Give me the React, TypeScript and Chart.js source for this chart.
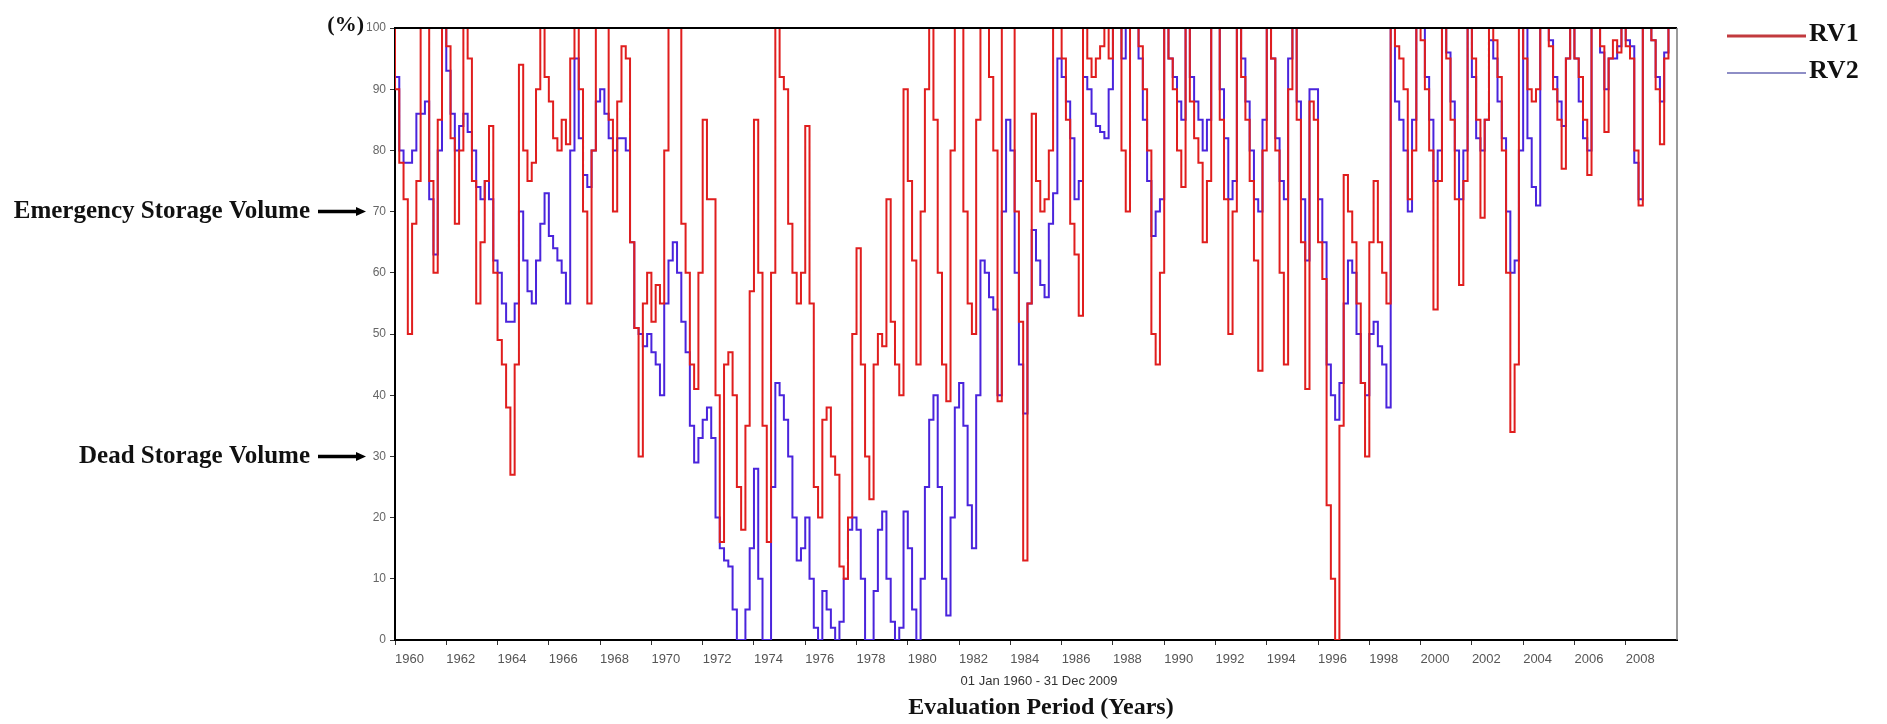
import React, { useEffect, useRef } from "react";
import { Chart, registerables } from "chart.js";

Chart.register(...registerables);

// ---------- DATA ----------
const START_YEAR = 1960;
const END_YEAR = 2010;
const STEPS_PER_YEAR = 6; // one value every two months

const seriesNames = ["RV1", "RV2"];

// RV1 storage (%), 6 values per year, 1960..2009
const rv1 = [
  100, 90, 78, 72, 50, 68, // 1960
  75, 100, 100, 75, 60, 85, // 1961
  100, 97, 82, 68, 80, 100, // 1962
  95, 75, 55, 65, 75, 84, // 1963
  60, 49, 45, 38, 27, 45, // 1964
  94, 80, 75, 78, 90, 100, // 1965
  92, 88, 82, 80, 85, 81, // 1966
  95, 100, 90, 70, 55, 80, // 1967
  100, 100, 100, 85, 70, 88, // 1968
  97, 95, 65, 51, 30, 55, // 1969
  60, 52, 58, 55, 80, 100, // 1970
  100, 100, 68, 60, 45, 41, // 1971
  60, 85, 72, 72, 40, 16, // 1972
  45, 47, 40, 25, 18, 35, // 1973
  57, 85, 60, 35, 16, 60, // 1974
  100, 92, 90, 68, 60, 55, // 1975
  60, 84, 55, 25, 20, 36, // 1976
  38, 30, 27, 12, 10, 20, // 1977
  50, 64, 45, 30, 23, 45, // 1978
  50, 48, 72, 52, 45, 40, // 1979
  90, 75, 62, 45, 70, 90, // 1980
  100, 85, 60, 45, 39, 80, // 1981
  100, 100, 70, 55, 50, 85, // 1982
  100, 100, 92, 80, 39, 100, // 1983
  100, 100, 70, 52, 13, 55, // 1984
  86, 75, 70, 72, 80, 100, // 1985
  100, 95, 85, 68, 63, 53, // 1986
  100, 95, 92, 95, 97, 100, // 1987
  95, 100, 100, 80, 70, 100, // 1988
  100, 97, 90, 80, 50, 45, // 1989
  60, 100, 95, 90, 80, 74, // 1990
  100, 88, 82, 78, 65, 75, // 1991
  100, 100, 85, 72, 50, 70, // 1992
  100, 92, 85, 75, 62, 44, // 1993
  80, 100, 95, 80, 60, 45, // 1994
  90, 100, 85, 65, 41, 88, // 1995
  85, 65, 59, 22, 10, 0, // 1996
  35, 76, 70, 65, 55, 42, // 1997
  30, 65, 75, 65, 60, 55, // 1998
  100, 97, 95, 90, 72, 80, // 1999
  100, 98, 90, 80, 54, 75, // 2000
  100, 95, 85, 72, 58, 75, // 2001
  100, 95, 85, 69, 85, 100, // 2002
  98, 92, 80, 60, 34, 45, // 2003
  100, 95, 90, 88, 90, 100, // 2004
  100, 97, 90, 85, 77, 95, // 2005
  100, 95, 92, 85, 76, 100, // 2006
  100, 97, 83, 95, 98, 96, // 2007
  100, 97, 95, 80, 71, 100, // 2008
  100, 98, 90, 81, 95, 100, // 2009
];

// RV2 storage (%), 6 values per year, 1960..2009
const rv2 = [
  100, 92, 80, 78, 78, 80, // 1960
  86, 86, 88, 72, 63, 80, // 1961
  100, 93, 86, 80, 84, 86, // 1962
  83, 80, 74, 72, 75, 72, // 1963
  62, 60, 55, 52, 52, 55, // 1964
  70, 62, 57, 55, 62, 68, // 1965
  73, 66, 64, 62, 60, 55, // 1966
  80, 95, 82, 76, 74, 80, // 1967
  88, 90, 86, 82, 80, 82, // 1968
  82, 80, 65, 51, 50, 48, // 1969
  50, 47, 45, 40, 55, 62, // 1970
  65, 60, 52, 47, 35, 29, // 1971
  33, 36, 38, 33, 20, 15, // 1972
  13, 12, 5, 0, 0, 5, // 1973
  15, 28, 10, 0, 0, 25, // 1974
  42, 40, 36, 30, 20, 13, // 1975
  15, 20, 10, 2, 0, 8, // 1976
  5, 2, 0, 3, 10, 18, // 1977
  20, 18, 10, 0, 0, 8, // 1978
  18, 21, 10, 3, 0, 2, // 1979
  21, 15, 5, 0, 10, 25, // 1980
  36, 40, 25, 10, 4, 20, // 1981
  38, 42, 35, 22, 15, 40, // 1982
  62, 60, 56, 54, 40, 70, // 1983
  85, 80, 60, 45, 37, 55, // 1984
  67, 62, 58, 56, 68, 73, // 1985
  95, 92, 88, 82, 72, 75, // 1986
  92, 90, 86, 84, 83, 82, // 1987
  90, 100, 100, 95, 100, 100, // 1988
  100, 95, 85, 75, 66, 70, // 1989
  72, 100, 95, 92, 88, 85, // 1990
  100, 92, 88, 85, 80, 85, // 1991
  100, 100, 90, 82, 72, 75, // 1992
  100, 95, 88, 80, 72, 70, // 1993
  85, 100, 95, 82, 75, 72, // 1994
  95, 100, 88, 72, 62, 90, // 1995
  90, 72, 65, 45, 40, 36, // 1996
  42, 55, 62, 60, 50, 42, // 1997
  40, 50, 52, 48, 45, 38, // 1998
  100, 88, 85, 80, 70, 85, // 1999
  100, 100, 92, 85, 75, 80, // 2000
  100, 96, 88, 80, 72, 80, // 2001
  100, 92, 82, 80, 85, 98, // 2002
  95, 88, 82, 70, 60, 62, // 2003
  80, 100, 82, 74, 71, 100, // 2004
  100, 98, 92, 88, 84, 95, // 2005
  100, 95, 88, 82, 80, 100, // 2006
  100, 96, 90, 95, 95, 97, // 2007
  100, 98, 97, 78, 72, 100, // 2008
  100, 98, 92, 88, 96, 100, // 2009
];

const xTickYears = [
  1960, 1962, 1964, 1966, 1968, 1970, 1972, 1974, 1976, 1978, 1980, 1982, 1984,
  1986, 1988, 1990, 1992, 1994, 1996, 1998, 2000, 2002, 2004, 2006, 2008,
];
const yMin = 0;
const yMax = 100;
const yStep = 10;

const yUnitLabel = "(%)";
const xTitle = "Evaluation Period (Years)";
const xSubtitle = "01 Jan 1960 - 31 Dec 2009";
const markerLabels = ["Emergency Storage Volume", "Dead Storage Volume"];
const markerValues = [70, 30];

// ---------- STYLE ----------
const W = 1887;
const H = 724;
const PLOT = { left: 395, top: 28, right: 1677, bottom: 640 };
const Y_AXIS_W = 40;
const X_AXIS_H = 30;
const LINE_COLORS = ["#e01e1e", "#4a24dc"];
const LEGEND_COLORS = ["#c23a3e", "#8e8ec6"];
const SERIF = '"Liberation Serif", "Times New Roman", serif';
const SANS = '"Liberation Sans", Arial, sans-serif';

const toPoints = (vals: number[]) =>
  vals.map((v, i) => ({ x: START_YEAR + i / STEPS_PER_YEAR, y: v }));

const decorPlugin = {
  id: "decor",
  afterDraw(chart: any) {
    const { ctx, chartArea, scales } = chart;
    const ys = scales.y;
    ctx.save();

    // top frame line and right frame line
    ctx.strokeStyle = "#000";
    ctx.lineWidth = 2;
    ctx.beginPath();
    ctx.moveTo(chartArea.left - 1, chartArea.top);
    ctx.lineTo(chartArea.right, chartArea.top);
    ctx.stroke();
    ctx.strokeStyle = "#7a7a7a";
    ctx.lineWidth = 1.5;
    ctx.beginPath();
    ctx.moveTo(chartArea.right, chartArea.top);
    ctx.lineTo(chartArea.right, chartArea.bottom);
    ctx.stroke();

    ctx.fillStyle = "#111";
    // (%) unit label
    ctx.font = `bold 22px ${SERIF}`;
    ctx.textAlign = "right";
    ctx.textBaseline = "middle";
    ctx.fillText(yUnitLabel, chartArea.left - 31, ys.getPixelForValue(yMax) - 3);

    // storage markers with arrows
    markerLabels.forEach((label, i) => {
      const y = ys.getPixelForValue(markerValues[i]);
      ctx.font = `bold 25px ${SERIF}`;
      ctx.textAlign = "right";
      ctx.textBaseline = "middle";
      ctx.fillStyle = "#111";
      ctx.fillText(label, chartArea.left - 85, y);
      ctx.strokeStyle = "#000";
      ctx.lineWidth = 3.5;
      ctx.beginPath();
      ctx.moveTo(chartArea.left - 77, y);
      ctx.lineTo(chartArea.left - 36, y);
      ctx.stroke();
      ctx.fillStyle = "#000";
      ctx.beginPath();
      ctx.moveTo(chartArea.left - 29, y);
      ctx.lineTo(chartArea.left - 39, y - 4.5);
      ctx.lineTo(chartArea.left - 39, y + 4.5);
      ctx.closePath();
      ctx.fill();
    });

    // legend
    const legendY = [36, 73];
    seriesNames.forEach((name, i) => {
      ctx.strokeStyle = LEGEND_COLORS[i];
      ctx.lineWidth = i === 0 ? 3 : 2;
      ctx.beginPath();
      ctx.moveTo(1727, legendY[i]);
      ctx.lineTo(1806, legendY[i]);
      ctx.stroke();
      ctx.fillStyle = "#111";
      ctx.font = `bold 26px ${SERIF}`;
      ctx.textAlign = "left";
      ctx.textBaseline = "middle";
      ctx.fillText(name, 1809, legendY[i] - 2);
    });

    // x-axis sub label and title
    const cx = (chartArea.left + chartArea.right) / 2 + 3;
    ctx.fillStyle = "#333";
    ctx.font = `13px ${SANS}`;
    ctx.textAlign = "center";
    ctx.textBaseline = "middle";
    ctx.fillText(xSubtitle, cx, 681);
    ctx.fillStyle = "#111";
    ctx.font = `bold 24px ${SERIF}`;
    ctx.fillText(xTitle, cx + 2, 708);

    ctx.restore();
  },
};

export default function App() {
  const canvasRef = useRef<HTMLCanvasElement | null>(null);

  useEffect(() => {
    const canvas = canvasRef.current;
    if (!canvas) return;
    const chart = new Chart(canvas, {
      type: "line",
      data: {
        datasets: [rv1, rv2].map((vals, i) => ({
          label: seriesNames[i],
          data: toPoints(vals),
          borderColor: LINE_COLORS[i],
          backgroundColor: LINE_COLORS[i],
          borderWidth: 2,
          pointRadius: 0,
          stepped: "after" as const,
          fill: false,
        })),
      },
      options: {
        responsive: false,
        animation: false,
        devicePixelRatio: 1,
        layout: {
          padding: {
            left: PLOT.left - Y_AXIS_W,
            top: PLOT.top,
            right: W - PLOT.right,
            bottom: H - PLOT.bottom - X_AXIS_H,
          },
        },
        plugins: {
          legend: { display: false },
          tooltip: { enabled: false },
        },
        scales: {
          x: {
            type: "linear",
            min: START_YEAR,
            max: END_YEAR,
            afterFit: (s: any) => {
              s.height = X_AXIS_H;
            },
            afterBuildTicks: (s: any) => {
              s.ticks = xTickYears.map((v) => ({ value: v }));
            },
            ticks: {
              align: "start",
              autoSkip: false,
              maxRotation: 0,
              minRotation: 0,
              padding: 7,
              color: "#555",
              font: { family: SANS, size: 13 },
              callback: (v: any) => String(v),
            },
            grid: {
              drawOnChartArea: false,
              drawTicks: true,
              tickLength: 5,
              color: "#000",
              tickColor: "#333",
            },
            border: { display: true, color: "#000", width: 2 },
          },
          y: {
            type: "linear",
            min: yMin,
            max: yMax,
            afterFit: (s: any) => {
              s.width = Y_AXIS_W;
            },
            ticks: {
              stepSize: yStep,
              padding: 4,
              color: "#666",
              font: { family: SANS, size: 12 },
              callback: (v: any) => String(v),
            },
            grid: {
              drawOnChartArea: false,
              drawTicks: true,
              tickLength: 5,
              color: "#000",
              tickColor: "#333",
            },
            border: { display: true, color: "#000", width: 2 },
          },
        },
      },
      plugins: [decorPlugin],
    });
    return () => chart.destroy();
  }, []);

  return (
    <div
      style={{
        position: "absolute",
        left: 0,
        top: 0,
        width: W,
        height: H,
        overflow: "hidden",
        background: "#fff",
      }}
    >
      <canvas
        ref={canvasRef}
        width={W}
        height={H}
        style={{ display: "block", width: W, height: H }}
      />
    </div>
  );
}
